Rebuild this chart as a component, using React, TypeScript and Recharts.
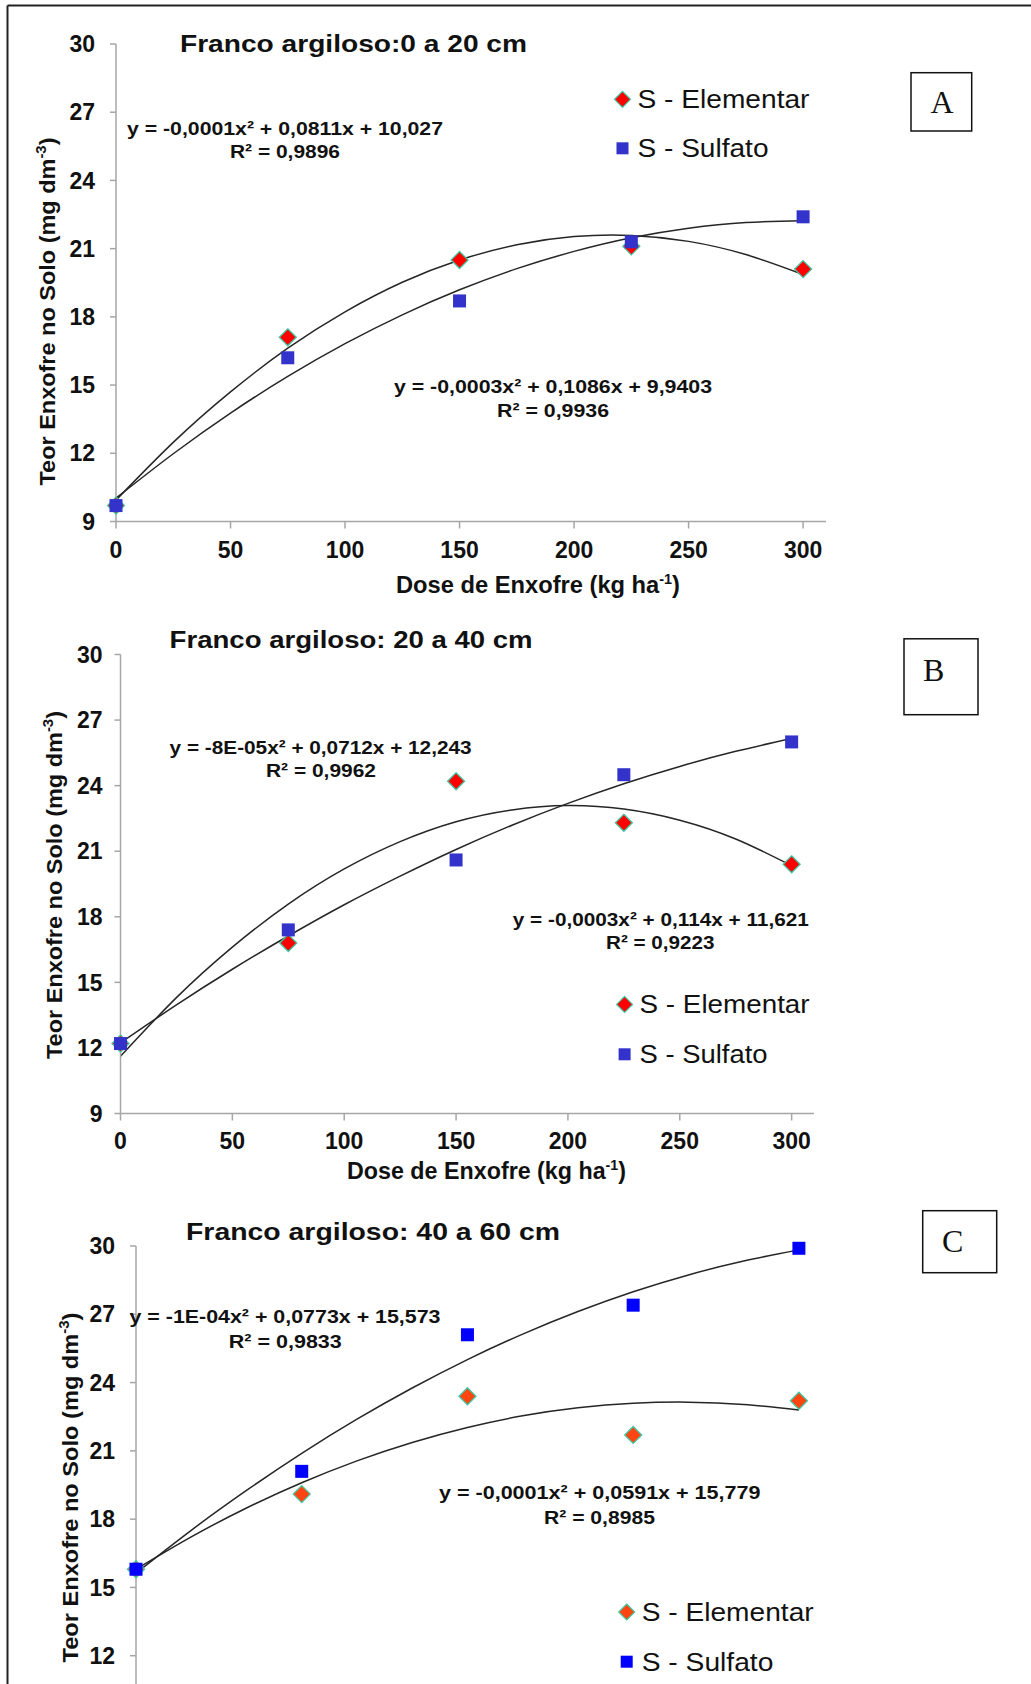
import React from 'react'
import { ComposedChart, Line, Scatter, XAxis, YAxis } from 'recharts'

// doses (kg ha-1) and measured soil S (mg dm-3)
const doses = [0, 75, 150, 225, 300]
const elementarA = [9.7, 17.1, 20.5, 21.1, 20.1]
const sulfatoA = [9.7, 16.2, 18.7, 21.3, 22.4]
const elementarB = [12.2, 16.8, 24.2, 22.3, 20.4]
const sulfatoB = [12.2, 17.4, 20.6, 24.5, 26.0]
const elementarC = [15.8, 19.1, 23.4, 21.7, 23.2]
const sulfatoC = [15.8, 20.1, 26.1, 27.4, 29.9]

// polynomial trend lines
const trendX = [0, 25, 50, 75, 100, 125, 150, 175, 200, 225, 250, 275, 300]
const trendElementarA = [9.94, 12.48, 14.7, 16.62, 18.22, 19.52, 20.5, 21.17, 21.53, 21.58, 21.32, 20.74, 19.86]
const trendSulfatoA = [10.03, 11.98, 13.77, 15.38, 16.82, 18.09, 19.19, 20.12, 20.88, 21.48, 21.9, 22.15, 22.23]
const trendElementarB = [11.62, 14.3, 16.61, 18.58, 20.19, 21.44, 22.35, 22.89, 23.09, 22.93, 22.42, 21.56, 20.34]
const trendSulfatoB = [12.23, 13.97, 15.6, 17.12, 18.55, 19.86, 21.08, 22.19, 23.19, 24.09, 24.88, 25.57, 26.16]
const trendElementarC = [15.8, 17.22, 18.49, 19.6, 20.56, 21.37, 22.03, 22.54, 22.89, 23.09, 23.14, 23.04, 22.79]
const trendSulfatoC = [15.63, 17.51, 19.26, 20.89, 22.39, 23.76, 25.01, 26.13, 27.12, 27.99, 28.73, 29.34, 29.83]

const xTicks = [0, 50, 100, 150, 200, 250, 300]
const yTicks = [9, 12, 15, 18, 21, 24, 27, 30]
// panel C is cut at the bottom of the figure: 9 and the x axis are not shown
const yTicksC = [12, 15, 18, 21, 24, 27, 30]

const SANS = '"Liberation Sans", Arial, Helvetica, sans-serif'
const SERIF = '"Liberation Serif", "Times New Roman", serif'
const AXIS = '#a6a6a6'
const TEAL = '#3fc7a3'

const toPoints = (xs: number[], ys: number[]) => xs.map((x, i) => ({ x, y: ys[i] }))

const diamondShape = (fill: string) => (p: any) => {
  const { cx, cy } = p
  const r = 8.5
  return (
    <polygon
      points={`${cx},${cy - r} ${cx + r},${cy} ${cx},${cy + r} ${cx - r},${cy}`}
      fill={fill}
      stroke={TEAL}
      strokeWidth={1.3}
    />
  )
}

const squareShape = (fill: string) => (p: any) => {
  const { cx, cy } = p
  const s = 13
  return <rect x={cx - s / 2} y={cy - s / 2} width={s} height={s} fill={fill} />
}

interface PanelProps {
  top: number
  height: number
  axisX: number
  plotTop: number
  plotBottom: number
  plotRight: number
  yMargin: number
  xMargin: number
  showXTicks: boolean
  yTickValues: number[]
  elem: number[]
  sulf: number[]
  trendElem: number[]
  trendSulf: number[]
  elemColor: string
  sulfColor: string
}

function Panel(p: PanelProps) {
  const tickStyle = { fontSize: 23, fontWeight: 'bold', fill: '#111', fontFamily: SANS }
  return (
    <div style={{ position: 'absolute', left: 0, top: p.top, width: 1031, height: p.height }}>
      <ComposedChart
        width={1031}
        height={p.height}
        margin={{ top: p.plotTop, right: 1031 - p.plotRight, bottom: 0, left: 0 }}
      >
        <XAxis
          type="number"
          dataKey="x"
          domain={[0, 310]}
          ticks={xTicks}
          interval={0}
          height={p.height - p.plotBottom}
          stroke={AXIS}
          strokeWidth={1.5}
          tickSize={7}
          tickMargin={p.xMargin}
          tick={p.showXTicks ? tickStyle : false}
        />
        <YAxis
          type="number"
          dataKey="y"
          domain={[9, 30]}
          ticks={p.yTickValues}
          interval={0}
          width={p.axisX}
          stroke={AXIS}
          strokeWidth={1.5}
          tickSize={6}
          tickMargin={p.yMargin}
          tick={tickStyle}
        />
        <Scatter data={toPoints(doses, p.elem)} shape={diamondShape(p.elemColor)} isAnimationActive={false} />
        <Scatter data={toPoints(doses, p.sulf)} shape={squareShape(p.sulfColor)} isAnimationActive={false} />
        <Line
          data={toPoints(trendX, p.trendElem)}
          dataKey="y"
          type="natural"
          stroke="#262626"
          strokeWidth={1.5}
          dot={false}
          isAnimationActive={false}
        />
        <Line
          data={toPoints(trendX, p.trendSulf)}
          dataKey="y"
          type="natural"
          stroke="#262626"
          strokeWidth={1.5}
          dot={false}
          isAnimationActive={false}
        />
      </ComposedChart>
    </div>
  )
}

function T({ x, y, w, size, bold = true, children }: any) {
  return (
    <text
      x={x}
      y={y}
      fontSize={size}
      fontWeight={bold ? 'bold' : 'normal'}
      fontFamily={SANS}
      fill="#111"
      textLength={w}
      lengthAdjust="spacingAndGlyphs"
    >
      {children}
    </text>
  )
}

function YTitle({ x, cy, w }: any) {
  return (
    <text
      transform={`translate(${x},${cy}) rotate(-90)`}
      textAnchor="middle"
      fontSize={22}
      fontWeight="bold"
      fontFamily={SANS}
      fill="#111"
      textLength={w}
      lengthAdjust="spacingAndGlyphs"
    >
      Teor Enxofre no Solo (mg dm
      <tspan dy={-9} fontSize={14}>-3</tspan>
      <tspan dy={9}>)</tspan>
    </text>
  )
}

function XTitle({ x, y, w }: any) {
  return (
    <T x={x} y={y} w={w} size={23}>
      Dose de Enxofre (kg ha
      <tspan dy={-9} fontSize={14}>-1</tspan>
      <tspan dy={9}>)</tspan>
    </T>
  )
}

function LegendBox({ x, y1, y2, w1, w2, elemColor, sulfColor }: any) {
  const r = 8
  return (
    <g>
      <polygon
        points={`${x},${y1 - r} ${x + r},${y1} ${x},${y1 + r} ${x - r},${y1}`}
        fill={elemColor}
        stroke={TEAL}
        strokeWidth={1.2}
      />
      <T x={x + 15} y={y1 + 9} w={w1} size={25} bold={false}>S - Elementar</T>
      <rect x={x - 6} y={y2 - 6} width={12} height={12} fill={sulfColor} />
      <T x={x + 15} y={y2 + 9} w={w2} size={25} bold={false}>S - Sulfato</T>
    </g>
  )
}

function Tag({ x1, y1, x2, y2, label, lx, ly }: any) {
  return (
    <g>
      <rect x={x1} y={y1} width={x2 - x1} height={y2 - y1} fill="#fff" stroke="#111" strokeWidth={1.5} />
      <text x={lx} y={ly} textAnchor="middle" fontSize={32} fontFamily={SERIF} fill="#111">{label}</text>
    </g>
  )
}

export default function App() {
  return (
    <div style={{ position: 'absolute', left: 0, top: 0, width: 1031, height: 1684, overflow: 'hidden', background: '#fff' }}>
      <Panel
        top={0} height={600} axisX={116} plotTop={44} plotBottom={521.5} plotRight={826}
        yMargin={15} xMargin={13} showXTicks yTickValues={yTicks}
        elem={elementarA} sulf={sulfatoA} trendElem={trendElementarA} trendSulf={trendSulfatoA}
        elemColor="#ff0000" sulfColor="#3333cc"
      />
      <Panel
        top={600} height={600} axisX={120.5} plotTop={54.5} plotBottom={513.5} plotRight={814}
        yMargin={12} xMargin={12} showXTicks yTickValues={yTicks}
        elem={elementarB} sulf={sulfatoB} trendElem={trendElementarB} trendSulf={trendSulfatoB}
        elemColor="#ff0000" sulfColor="#3333cc"
      />
      <Panel
        top={1180} height={504} axisX={136} plotTop={66} plotBottom={544} plotRight={821}
        yMargin={15} xMargin={13} showXTicks={false} yTickValues={yTicksC}
        elem={elementarC} sulf={sulfatoC} trendElem={trendElementarC} trendSulf={trendSulfatoC}
        elemColor="#ff4512" sulfColor="#0000ff"
      />
      <svg width={1031} height={1684} style={{ position: 'absolute', left: 0, top: 0, pointerEvents: 'none' }}>
        <line x1={7.5} y1={5.5} x2={1031} y2={5.5} stroke="#222" strokeWidth={2} />
        <line x1={7.5} y1={5.5} x2={7.5} y2={1684} stroke="#222" strokeWidth={2} />

        {/* A */}
        <T x={180} y={51.7} w={347} size={23}>Franco argiloso:0 a 20 cm</T>
        <T x={127} y={135} w={316} size={18.5}>y = -0,0001x² + 0,0811x + 10,027</T>
        <T x={230} y={158} w={110} size={18.5}>R² = 0,9896</T>
        <T x={394} y={393} w={318} size={18.5}>y = -0,0003x² + 0,1086x + 9,9403</T>
        <T x={497} y={416.5} w={112} size={18.5}>R² = 0,9936</T>
        <YTitle x={55} cy={311.5} w={348} />
        <XTitle x={396} y={593} w={284} />
        <LegendBox x={622.5} y1={99.3} y2={148.3} w1={172} w2={131} elemColor="#ff0000" sulfColor="#3333cc" />
        <Tag x1={911} y1={72.7} x2={971.7} y2={131} label="A" lx={942} ly={113.3} />

        {/* B */}
        <T x={169.6} y={648} w={363} size={23}>Franco argiloso: 20 a 40 cm</T>
        <T x={169.6} y={753.5} w={302} size={18.5}>y = -8E-05x² + 0,0712x + 12,243</T>
        <T x={266} y={776.8} w={110} size={18.5}>R² = 0,9962</T>
        <T x={512.8} y={925.6} w={296} size={18.5}>y = -0,0003x² + 0,114x + 11,621</T>
        <T x={606} y={948.5} w={108.5} size={18.5}>R² = 0,9223</T>
        <YTitle x={62} cy={885} w={348} />
        <XTitle x={347} y={1179} w={279} />
        <LegendBox x={624.6} y1={1004.4} y2={1054.3} w1={170} w2={128} elemColor="#ff0000" sulfColor="#3333cc" />
        <Tag x1={904} y1={638.8} x2={978} y2={714.7} label="B" lx={933.6} ly={681} />

        {/* C */}
        <T x={186} y={1239.5} w={374} size={24}>Franco argiloso: 40 a 60 cm</T>
        <T x={129.5} y={1323} w={311} size={18.5}>y = -1E-04x² + 0,0773x + 15,573</T>
        <T x={228.8} y={1348} w={113} size={18.5}>R² = 0,9833</T>
        <T x={439} y={1499} w={321.5} size={18.5}>y = -0,0001x² + 0,0591x + 15,779</T>
        <T x={544} y={1524} w={111} size={18.5}>R² = 0,8985</T>
        <YTitle x={78} cy={1487.5} w={350} />
        <LegendBox x={626.7} y1={1612} y2={1661.7} w1={172} w2={131.7} elemColor="#ff4512" sulfColor="#0000ff" />
        <Tag x1={922.7} y1={1210.7} x2={996.7} y2={1272.7} label="C" lx={952.7} ly={1252} />
      </svg>
    </div>
  )
}
